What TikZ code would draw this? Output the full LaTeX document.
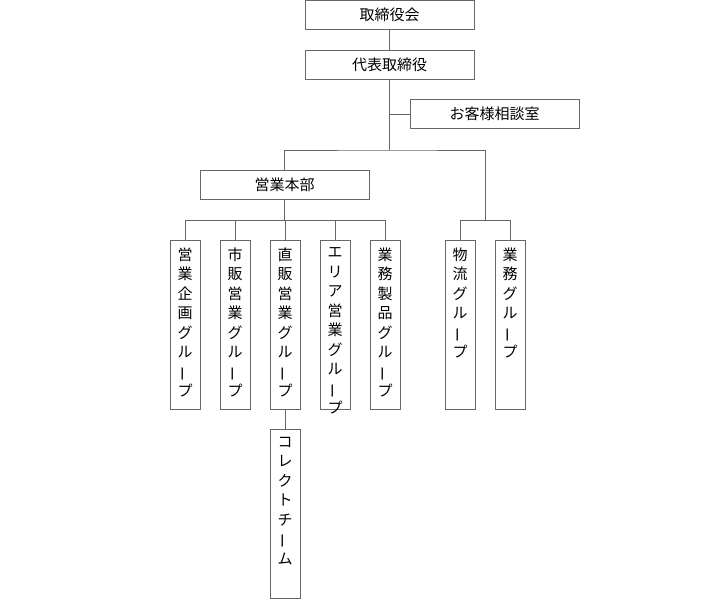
\documentclass[tikz,border=0pt]{standalone}
\usepackage{fontspec}
\setmainfont{Noto Sans CJK JP}
\newcommand{\cho}{\rotatebox[origin=c]{90}{ー}}
\newcommand{\vlabel}[1]{\parbox[t][162pt][t]{24pt}{\centering\vspace*{4pt}#1}}
\tikzset{
  hbox/.style = {draw, minimum width=169pt, minimum height=29pt, inner sep=0pt},
  vbox/.style = {draw, minimum width=30pt, minimum height=169pt, inner sep=0pt, anchor=north},
}
\begin{document}
\begin{tikzpicture}[x=1pt, y=-1pt, font=\fontsize{15}{19.5}\selectfont, line width=0.6pt, draw=black!60]
\useasboundingbox (0,0) rectangle (720,600);
\begin{scope}[every node/.style = {hbox}]
\node (board) at (389.5, 14.5) {取締役会};
\node (ceo) at (389.5, 64.5) {代表取締役};
\node (care) at (494.5, 114) {お客様相談室};
\node (sales) at (284.5, 184.5) {営業本部};
\end{scope}
\begin{scope}[every node/.style = {vbox}]
\node (plan) at (185, 240) {\vlabel{営\\業\\企\\画\\グ\\ル\\\cho\\プ}};
\node (retail) at (235, 240) {\vlabel{市\\販\\営\\業\\グ\\ル\\\cho\\プ}};
\node (direct) at (285, 240) {\vlabel{直\\販\\営\\業\\グ\\ル\\\cho\\プ}};
\node (area) at (335, 240) {\vlabel{エ\\リ\\ア\\営\\業\\グ\\ル\\\cho\\プ}};
\node (product) at (385, 240) {\vlabel{業\\務\\製\\品\\グ\\ル\\\cho\\プ}};
\node (logi) at (460, 240) {\vlabel{物\\流\\グ\\ル\\\cho\\プ}};
\node (admin) at (510, 240) {\vlabel{業\\務\\グ\\ル\\\cho\\プ}};
\node (collect) at (285, 429) {\vlabel{コ\\レ\\ク\\ト\\チ\\\cho\\ム}};
\end{scope}
\coordinate (carej) at (389.5, 114);
\coordinate (topj) at (389.5, 150);
\coordinate (salesj) at (284.5, 220);
\coordinate (rightj) at (485, 220);
\draw (board) -- (ceo);
\draw (ceo) -- (topj);
\draw (carej) -- (care);
\draw (sales.north) |- (topj) -| (rightj);
\draw (sales) -- (salesj);
\foreach \b in {plan, retail, direct, area, product}
  \draw (salesj) -| (\b.north);
\foreach \b in {logi, admin}
  \draw (rightj) -| (\b.north);
\draw (direct) -- (collect);
\end{tikzpicture}
\end{document}
